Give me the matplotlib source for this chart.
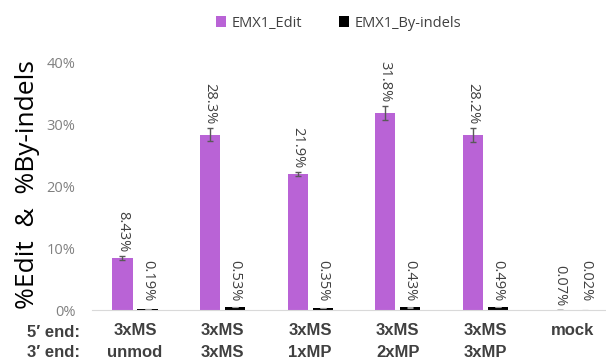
import matplotlib
matplotlib.use("Agg")
import matplotlib.pyplot as plt
import numpy as np

five_end = ["3xMS", "3xMS", "3xMS", "3xMS", "3xMS", "mock"]
three_end = ["unmod", "3xMS", "1xMP", "2xMP", "3xMP", ""]
edit = [8.43, 28.3, 21.9, 31.8, 28.2, 0.07]
edit_err = [0.3, 1.0, 0.35, 1.1, 1.1, 0.0]
byindel = [0.19, 0.53, 0.35, 0.43, 0.49, 0.02]
byindel_err = [0.06, 0.05, 0.05, 0.05, 0.05, 0.0]
edit_labels = ["8.43%", "28.3%", "21.9%", "31.8%", "28.2%", "0.07%"]
byindel_labels = ["0.19%", "0.53%", "0.35%", "0.43%", "0.49%", "0.02%"]

purple = "#B963D6"
txt = "#404040"

fig = plt.figure(figsize=(6.06, 3.61), dpi=100)
ax = fig.add_axes([0.152, 0.141, 0.848, 0.687])

x = np.arange(len(five_end))
w = 0.23
off = 0.143

ax.bar(x - off, edit, w, color=purple, label="EMX1_Edit",
       yerr=edit_err, error_kw=dict(ecolor="#595959", capsize=2.5, elinewidth=1, capthick=1))
ax.bar(x + off, byindel, w, color="black", label="EMX1_By-indels",
       yerr=byindel_err, error_kw=dict(ecolor="#a0a0a0", capsize=2.5, elinewidth=0.8, capthick=0.8))

for i in range(len(x)):
    ax.text(x[i] - off, edit[i] + edit_err[i] + 0.6, edit_labels[i], rotation=270,
            ha="center", va="bottom", fontsize=10.5, color=txt, family="Open Sans")
    ax.text(x[i] + off, max(byindel[i] + byindel_err[i] + 0.6, 1.4), byindel_labels[i], rotation=270,
            ha="center", va="bottom", fontsize=10.5, color=txt, family="Open Sans")

ax.set_xlim(-0.49, 5.38)
ax.set_ylim(0, 40)
ax.set_yticks([0, 10, 20, 30, 40])
ax.set_yticklabels(["0%", "10%", "20%", "30%", "40%"], family="Open Sans", fontsize=10.5, color="#808080")
ax.set_xticks([])
ax.tick_params(axis="y", length=0, pad=12)
for s in ["top", "right", "left"]:
    ax.spines[s].set_visible(False)
ax.spines["bottom"].set_color("#d9d9d9")

for i in range(len(x)):
    ax.text(x[i], -3.3, five_end[i], ha="center", va="center", fontsize=12,
            fontweight="bold", color=txt, family="Liberation Sans")
    ax.text(x[i], -6.8, three_end[i], ha="center", va="center", fontsize=12,
            fontweight="bold", color=txt, family="Liberation Sans")
fig.text(0.132, 0.078, "5′ end:", ha="right", va="center", fontsize=12,
         fontweight="bold", color=txt, family="Liberation Sans")
fig.text(0.132, 0.024, "3′ end:", ha="right", va="center", fontsize=12,
         fontweight="bold", color=txt, family="Liberation Sans")

fig.text(0.045, 0.49, "%Edit  &  %By-indels", rotation=90, ha="center", va="center",
         fontsize=19, color="black", family="Open Sans")

ax.legend(loc="upper center", bbox_to_anchor=(0.48, 1.24), ncol=2, frameon=False,
          prop={"family": "Open Sans", "size": 10.5}, handlelength=0.7, handleheight=0.7,
          columnspacing=2.5, handletextpad=0.4, labelcolor=txt)

fig.savefig("out.png", dpi=100)
